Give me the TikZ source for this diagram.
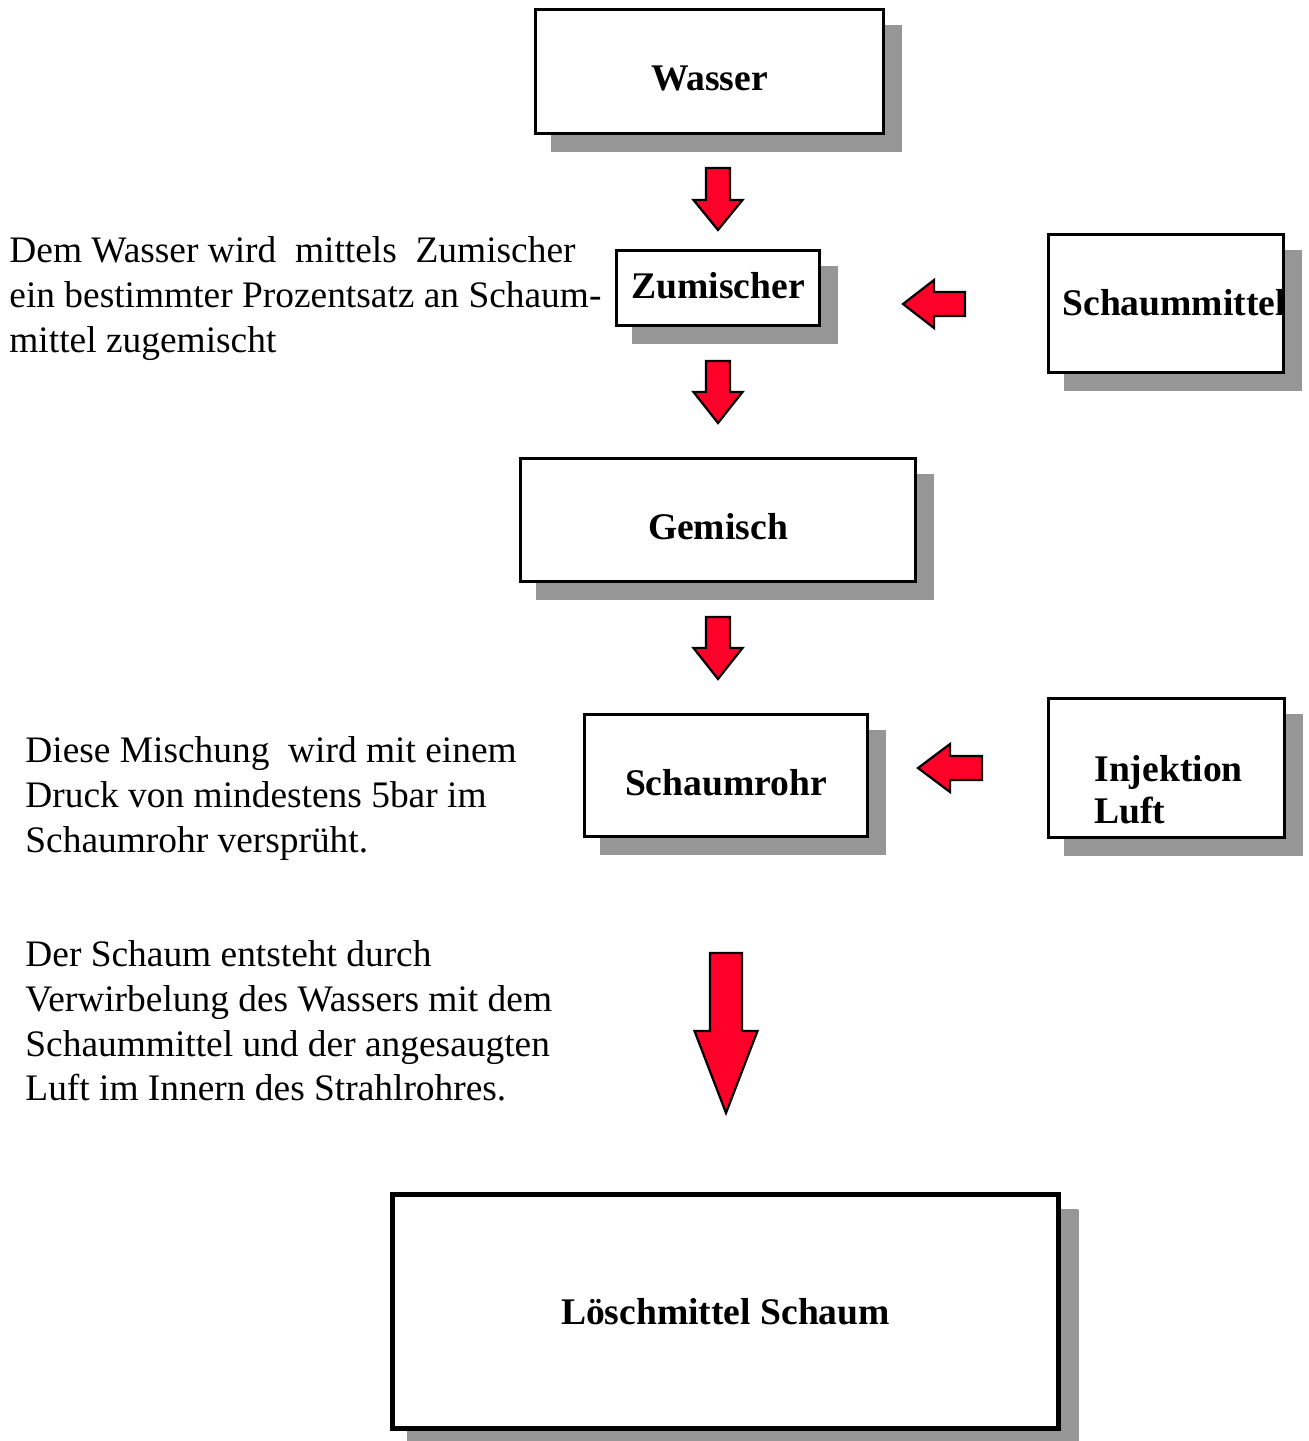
\documentclass[tikz,border=0pt]{standalone}
\usepackage{fontspec}
\setmainfont{Liberation Serif}
\usetikzlibrary{shadows}
\definecolor{shadowgray}{RGB}{150,150,150}
\definecolor{arrowred}{RGB}{255,0,40}
\tikzset{
  flowbox/.style={draw=black, line width=1.5pt, fill=white, inner sep=0pt,
    font=\fontsize{18.8pt}{21pt}\selectfont\bfseries,
    drop shadow={shadow xshift=8.25pt, shadow yshift=-8.25pt, opacity=1,
      fill=shadowgray, draw=shadowgray}},
  boxlabel/.style={inner sep=0pt, align=left,
    font=\fontsize{18.8pt}{21pt}\selectfont\bfseries},
  blockarrow/.style={draw=black, line width=1.1pt, fill=arrowred, line join=miter},
  desctext/.style={inner sep=0pt, align=left, anchor=north west,
    font=\fontsize{18.7pt}{22.35pt}\selectfont},
}
\begin{document}
\begin{tikzpicture}[x=0.5pt,y=-0.5pt]
\useasboundingbox (0,0) rectangle (1308,1441);

% boxes
\node[flowbox, minimum width=174pt, minimum height=62pt, text height=19pt, text depth=0pt]
  (wasser) at (709.5,71.5) {Wasser};
\node[flowbox, minimum width=101.5pt, minimum height=37.5pt, text height=10pt, text depth=0pt]
  (zumischer) at (718,288) {Zumischer};
\node[flowbox, minimum width=117.5pt, minimum height=69pt]
  (schaummittel) at (1166,303.5) {};
\node[boxlabel, anchor=base west] (schaummittelT) at (1062,315) {Schaummittel};
\node[flowbox, minimum width=197.5pt, minimum height=61.5pt, text height=19pt, text depth=0pt]
  (gemisch) at (718,520) {Gemisch};
\node[flowbox, minimum width=141.5pt, minimum height=61pt, text height=19.5pt, text depth=0pt]
  (schaumrohr) at (726,775.5) {Schaumrohr};
\node[flowbox, minimum width=118pt, minimum height=69.5pt]
  (injektion) at (1166.5,768) {};
\node[boxlabel, anchor=north west] (injektionT) at (1094,755) {Injektion\\Luft};
\node[flowbox, line width=2.5pt, minimum width=333pt, minimum height=117pt,
  drop shadow={shadow xshift=9pt, shadow yshift=-9pt, opacity=1, fill=shadowgray, draw=shadowgray}]
  (loesch) at (725.5,1311.5) {Löschmittel Schaum};

% block arrows
\draw[blockarrow] (706,168) -- (730,168) -- (730,200) -- (742.5,200) -- (718,230) -- (693.5,200) -- (706,200) -- cycle;
\draw[blockarrow] (706,361) -- (730,361) -- (730,392) -- (742.5,392) -- (718,423) -- (693.5,392) -- (706,392) -- cycle;
\draw[blockarrow] (706,617) -- (730,617) -- (730,648) -- (742.5,648) -- (718,679) -- (693.5,648) -- (706,648) -- cycle;
\draw[blockarrow] (710,953) -- (742,953) -- (742,1031) -- (757.5,1031) -- (726,1113) -- (694.5,1031) -- (710,1031) -- cycle;
\draw[blockarrow] (965,292) -- (965,316) -- (934,316) -- (934,328) -- (903,304) -- (934,280) -- (934,292) -- cycle;
\draw[blockarrow] (982,756) -- (982,780) -- (950,780) -- (950,792) -- (918,768) -- (950,744) -- (950,756) -- cycle;

% descriptions
\node[desctext] (txtA) at (9,236.5) {Dem Wasser wird\ \ mittels\ \ Zumischer\\ein bestimmter Prozentsatz an Schaum-\\mittel zugemischt};
\node[desctext] (txtB) at (25,736.5) {Diese Mischung\ \ wird mit einem\\Druck von mindestens 5bar im\\Schaumrohr versprüht.};
\node[desctext] (txtC) at (25,940.5) {Der Schaum entsteht durch\\Verwirbelung des Wassers mit dem\\Schaummittel und der angesaugten\\Luft im Innern des Strahlrohres.};
\end{tikzpicture}
\end{document}
